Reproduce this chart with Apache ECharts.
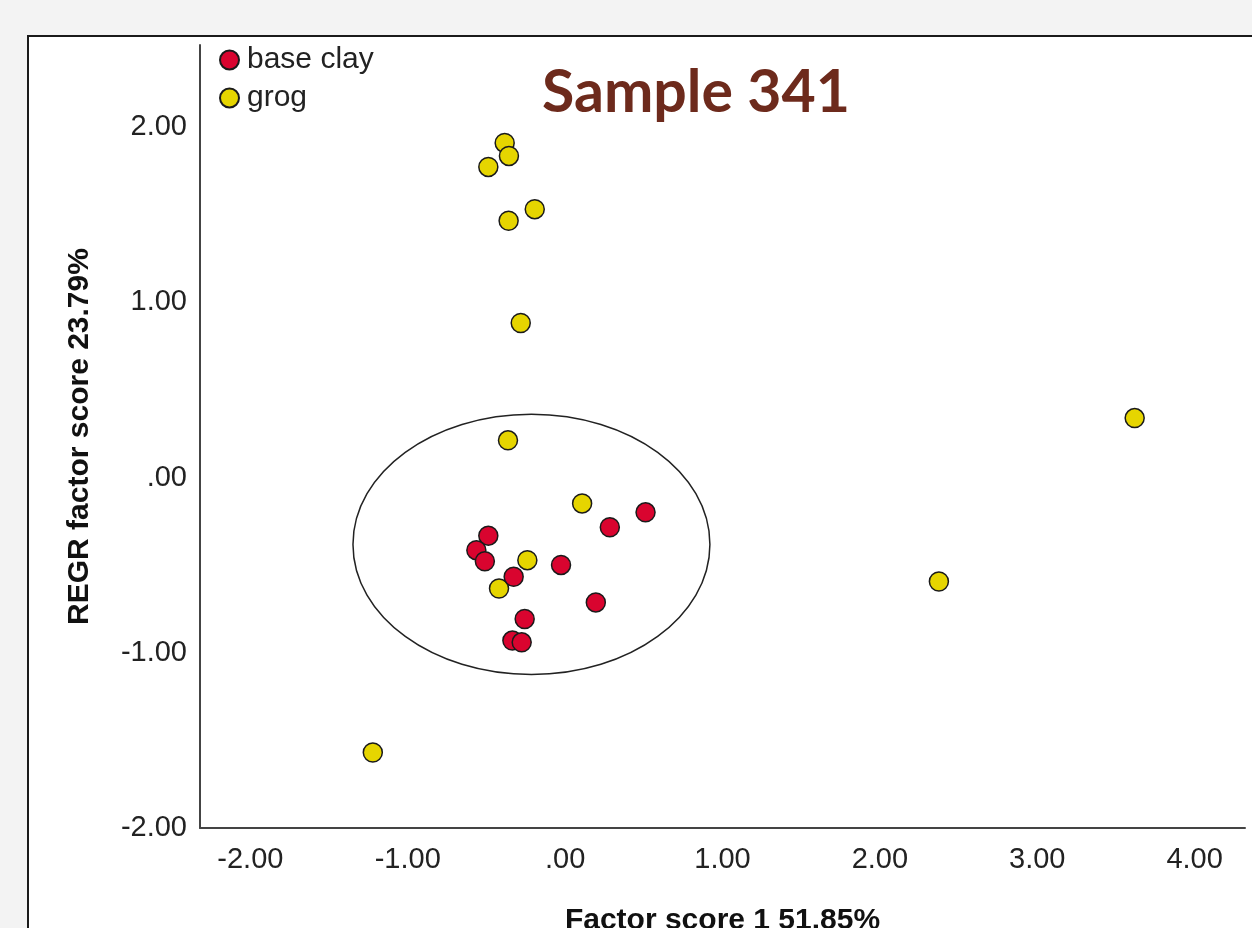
<!DOCTYPE html>
<html>
<head>
<meta charset="utf-8">
<script src="https://cdn.jsdelivr.net/npm/echarts@6/dist/echarts.min.js"></script>
<style>
html,body{margin:0;padding:0;background:#f3f3f3;}
#main{width:1252px;height:928px;}
</style>
</head>
<body>
<div id="main"></div>
<script>
// ---- data ----
const baseClayX = [0.511, 0.284, -0.488, -0.564, -0.510, -0.026, -0.327, 0.195, -0.257, -0.335, -0.276];
const baseClayY = [-0.198, -0.283, -0.331, -0.414, -0.477, -0.498, -0.566, -0.712, -0.807, -0.930, -0.940];
const grogX = [-0.384, -0.357, -0.488, -0.193, -0.359, -0.282, -0.363, 0.108, -0.240, -0.420, -1.222, 3.619, 2.375];
const grogY = [1.911, 1.837, 1.774, 1.533, 1.467, 0.883, 0.213, -0.147, -0.471, -0.633, -1.569, 0.340, -0.593];
const ellipseCenter = [-0.214, -0.381];
const ellipseRadii = [1.134, 0.743];
const xTicks = [-2, -1, 0, 1, 2, 3, 4];
const yTicks = [-2, -1, 0, 1, 2];
const seriesNames = ['base clay', 'grog'];
const titleText = 'Sample 341';
const xName = 'Factor score 1 51.85%';
const yName = 'REGR factor score 23.79%';

const fmt = v => (v === 0 ? '.00' : v.toFixed(2));
const zip = (xs, ys) => xs.map((x, i) => [x, ys[i]]);

const chart = echarts.init(document.getElementById('main'), null, {renderer: 'canvas'});
const labelFont = {fontFamily: 'Liberation Sans', fontSize: 29, color: '#222'};

chart.setOption({
  backgroundColor: '#f3f3f3',
  animation: false,
  graphic: [{
    type: 'rect', z: -10, silent: true,
    shape: {x: 28, y: 36, width: 1300, height: 1000},
    style: {fill: '#ffffff', stroke: '#1a1a1a', lineWidth: 2}
  }],
  title: {
    text: titleText, left: 537, top: 58,
    textStyle: {fontFamily: 'Lato', fontWeight: 'bold', fontSize: 59, color: '#6d2a1c'}
  },
  legend: {
    data: seriesNames, orient: 'vertical', left: 214, top: 40,
    itemWidth: 19, itemHeight: 19, itemGap: 8, icon: 'circle',
    textStyle: {fontFamily: 'Liberation Sans', fontSize: 30, color: '#222', padding: [0, 0, 0, 3]}
  },
  grid: {left: 200, right: 7, top: 45, bottom: 100, containLabel: false, outerBoundsMode: 'none'},
  xAxis: {
    type: 'value', min: -2.32, max: 4.32,
    name: xName, nameLocation: 'middle', nameGap: 78,
    nameTextStyle: {fontFamily: 'Liberation Sans', fontWeight: 'bold', fontSize: 30, color: '#111'},
    axisLine: {show: true, onZero: false, lineStyle: {color: '#444', width: 2}},
    axisTick: {show: false},
    splitLine: {show: false},
    axisLabel: Object.assign({customValues: xTicks, formatter: fmt, margin: 17}, labelFont)
  },
  yAxis: {
    type: 'value', min: -2, max: 2.47,
    name: yName, nameLocation: 'middle', nameGap: 105, nameRotate: 90,
    nameTextStyle: {fontFamily: 'Liberation Sans', fontWeight: 'bold', fontSize: 30, color: '#111'},
    axisLine: {show: true, onZero: false, lineStyle: {color: '#444', width: 2}},
    axisTick: {show: false},
    splitLine: {show: false},
    axisLabel: Object.assign({customValues: yTicks, formatter: fmt, margin: 13}, labelFont)
  },
  series: [
    {
      type: 'custom', name: 'ellipse', z: 1, silent: true,
      data: [[ellipseCenter[0], ellipseCenter[1], ellipseRadii[0], ellipseRadii[1]]],
      renderItem: function (params, api) {
        const c = api.coord([api.value(0), api.value(1)]);
        const s = api.size([api.value(2), api.value(3)]);
        return {
          type: 'ellipse',
          shape: {cx: c[0], cy: c[1], rx: s[0], ry: s[1]},
          style: {fill: 'none', stroke: '#222', lineWidth: 1.5}
        };
      }
    },
    {
      type: 'scatter', name: seriesNames[0], z: 3, symbolSize: 19,
      data: zip(baseClayX, baseClayY),
      itemStyle: {color: '#d9042f', borderColor: '#1a1a1a', borderWidth: 1.5, opacity: 1}
    },
    {
      type: 'scatter', name: seriesNames[1], z: 2, symbolSize: 19,
      data: zip(grogX, grogY),
      itemStyle: {color: '#e6d500', borderColor: '#1a1a1a', borderWidth: 1.5, opacity: 1}
    }
  ]
});
</script>
</body>
</html>
